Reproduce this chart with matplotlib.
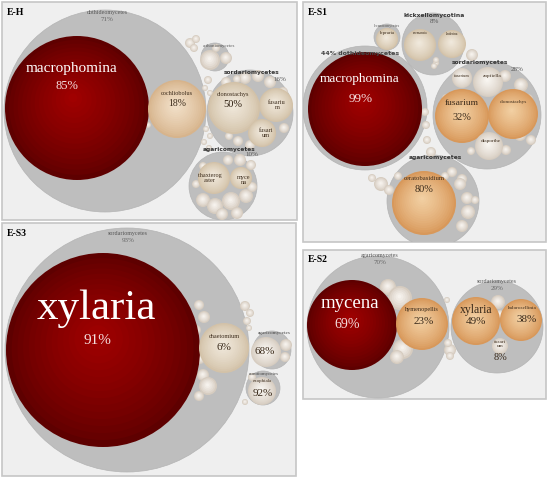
import numpy as np
import matplotlib
matplotlib.use('Agg')
import matplotlib.pyplot as plt
import matplotlib.colors as mcolors
from matplotlib.patches import Circle, Rectangle

# ---- data: class (gray) and genus (shaded) bubbles for each sample ----
eh_class = ['dothideomycetes', 'sordariomycetes', 'agaricomycetes', 'arthoniomycetes']
eh_class_pct = ['71%', '16%', '10%', '']
eh_class_size = [101, 43, 34, 14]
eh_genus = ['macrophomina', 'cochliobolus', 'clonostachys', 'fusariu\nm', 'fusari\num',
            'thaxterog\naster', 'myce\nna']
eh_genus_pct = ['85%', '18%', '50%', '', '', '', '']
eh_genus_size = [72, 29, 26, 17, 14, 16, 11]

s1_class = ['dothideomycetes', 'kickxellomycotina', 'sordariomycetes', 'agaricomycetes', 'lecanoromycetes']
s1_class_pct = ['44%', '8%', '28%', '', '']
s1_class_size = [62, 31, 54, 46, 13]
s1_genus = ['macrophomina', 'fusarium', 'clonostachys', 'zopfiella', 'fusarium', 'diaporthe',
            'ceratobasidium', 'lepraria', 'coemansia', 'linderina']
s1_genus_pct = ['99%', '32%', '', '', '', '', '80%', '', '', '']
s1_genus_size = [57, 27, 25, 15, 10, 14, 32, 11, 16, 14]

s3_class = ['sordariomycetes', 'agaricomycetes', 'eurotiomycetes']
s3_class_pct = ['93%', '', '']
s3_class_size = [122, 19, 17]
s3_genus = ['xylaria', 'chaetomium', '', 'exophiala']
s3_genus_pct = ['91%', '6%', '68%', '92%']
s3_genus_size = [97, 25, 15, 14]

s2_class = ['agaricomycetes', 'sordariomycetes']
s2_class_pct = ['70%', '29%']
s2_class_size = [71, 46]
s2_genus = ['mycena', 'hymenopellis', 'xylaria', 'halorosellinia', 'fusari\num']
s2_genus_pct = ['69%', '23%', '49%', '38%', '8%']
s2_genus_size = [45, 26, 24, 21, 8]

# ---- layout (figure pixel space) ----
panels = {'E-H': (2, 2, 297, 220), 'E-S1': (303, 2, 546, 242),
          'E-S3': (2, 223, 296, 476), 'E-S2': (303, 250, 546, 399)}

RED = ('#a30000', '#5e0000')
ORANGE = ('#f3d2a6', '#d8985a')
TAN = ('#f3e2cc', '#d7b48c')
BEIGE = ('#f2ebe0', '#d3c2a8')
LIGHT = ('#fbf8f4', '#d6ccc0')

fig = plt.figure(figsize=(5.5, 4.79), dpi=100)
ax = fig.add_axes([0, 0, 1, 1])
ax.set_xlim(0, 550)
ax.set_ylim(479, 0)
ax.axis('off')

clips = {}
for name, (x0, y0, x1, y1) in panels.items():
    rect = Rectangle((x0, y0), x1 - x0, y1 - y0, fc='#efefef', ec='#c6c6c6', lw=1.2, zorder=0)
    ax.add_patch(rect)
    clips[name] = rect
    ax.text(x0 + 5, y0 + 10, name, fontsize=7, fontweight='bold', family='Liberation Serif',
            va='center', ha='left', zorder=10)


def ball(panel, cx, cy, r, cols, n=16, z=3):
    ci = np.array(mcolors.to_rgb(cols[0]))
    co = np.array(mcolors.to_rgb(cols[1]))
    for i in range(n):
        t = i / n
        c = co + (ci - co) * t ** 0.8
        p = Circle((cx - 0.06 * r * t, cy - 0.15 * r * t), r * (1 - t), fc=c, ec='none', zorder=z)
        ax.add_patch(p)
        p.set_clip_path(clips[panel])


def gray(panel, cx, cy, r, z=1):
    p = Circle((cx, cy), r, fc='#bebebe', ec='#b4b4b4', lw=0.5, zorder=z)
    ax.add_patch(p)
    p.set_clip_path(clips[panel])


def minis(panel, pts):
    for cx, cy, r in pts:
        ball(panel, cx, cy, r, LIGHT, n=6, z=2)


def txt(x, y, s, size, color='#3a2a1a', bold=False, fam='Liberation Serif'):
    ax.text(x, y, s, fontsize=size, color=color, ha='center', va='center', family=fam,
            fontweight='bold' if bold else 'normal', zorder=12, linespacing=1.0)


# ================= E-H =================
eh_class_xy = [(105, 111), (250, 113), (223, 186), (215, 57)]
eh_genus_xy = [(77, 108), (177, 109), (234, 108), (276, 105), (262, 133), (214, 178), (241, 178)]
eh_style = [RED, TAN, BEIGE, BEIGE, BEIGE, BEIGE, BEIGE]
for (cx, cy), r in zip(eh_class_xy, eh_class_size):
    gray('E-H', cx, cy, r)
minis('E-H', [(190, 43, 5), (196, 39, 4), (194, 48, 4), (210, 60, 10), (226, 58, 6), (216, 48, 4),
              (208, 80, 4), (205, 88, 3), (210, 93, 3), (206, 129, 3), (210, 136, 3), (204, 142, 3),
              (209, 148, 3), (148, 125, 3),
              (245, 78, 6), (258, 76, 6), (270, 82, 6), (226, 82, 5), (237, 79, 4), (283, 92, 5),
              (250, 145, 5), (238, 141, 5), (229, 136, 4), (284, 128, 5),
              (240, 160, 6), (251, 165, 5), (203, 200, 7), (215, 206, 8), (231, 201, 9), (246, 196, 7),
              (252, 187, 5), (228, 160, 5), (203, 166, 4), (222, 214, 6), (237, 213, 6), (196, 184, 4)])
for (cx, cy), r, st in zip(eh_genus_xy, eh_genus_size, eh_style):
    ball('E-H', cx, cy, r, st)

txt(107, 12, eh_class[0], 4.3, '#555555')
txt(107, 19, eh_class_pct[0], 5, '#666666')
txt(72, 68, eh_genus[0], 11, 'white')
txt(67, 86, eh_genus_pct[0], 9, '#f4dede')
txt(177, 93, eh_genus[1], 4.5)
txt(177, 103, eh_genus_pct[1], 7)
txt(233, 94, eh_genus[2], 4.5)
txt(233, 104, eh_genus_pct[2], 7.5, '#2a1a0a')
txt(252, 72, eh_class[1], 4.2, '#333333', bold=True, fam='DejaVu Sans')
txt(280, 79, eh_class_pct[1], 5, '#555555')
txt(277, 105, eh_genus[3], 4.5)
txt(266, 133, eh_genus[4], 4.5)
txt(229, 150, eh_class[2], 4.2, '#333333', bold=True, fam='DejaVu Sans')
txt(252, 154, eh_class_pct[2], 5, '#555555')
txt(210, 178, eh_genus[5], 4.5)
txt(244, 180, eh_genus[6], 4.5)
txt(219, 46, eh_class[3], 3.5, '#555555')

# ================= E-S1 =================
s1_class_xy = [(365, 108), (433, 44), (487, 115), (433, 201), (387, 37)]
s1_genus_xy = [(365, 109), (462, 116), (513, 114), (488, 82), (462, 78), (489, 146),
               (424, 203), (387, 39), (420, 45), (452, 44)]
s1_style = [RED, ORANGE, ORANGE, LIGHT, LIGHT, LIGHT, ORANGE, BEIGE, BEIGE, BEIGE]
for (cx, cy), r in zip(s1_class_xy, s1_class_size):
    gray('E-S1', cx, cy, r)
minis('E-S1', [(426, 125, 4), (427, 140, 4), (425, 112, 4), (431, 152, 5), (381, 184, 7), (389, 190, 5),
               (398, 176, 4), (462, 179, 5), (472, 55, 6), (372, 178, 4),
               (505, 76, 6), (521, 85, 7), (528, 99, 5), (520, 135, 6), (531, 140, 5), (471, 151, 4),
               (506, 150, 5), (446, 98, 4), (436, 63, 3),
               (460, 184, 6), (467, 198, 6), (468, 212, 7), (462, 226, 6), (452, 172, 5), (445, 176, 4),
               (475, 200, 4), (436, 60, 3), (434, 66, 3)])
for (cx, cy), r, st in zip(s1_genus_xy, s1_genus_size, s1_style):
    ball('E-S1', cx, cy, r, st)

txt(360, 53, s1_class_pct[0] + ' ' + s1_class[0], 4.5, '#444444', bold=True, fam='DejaVu Sans')
txt(360, 79, s1_genus[0], 9.5, 'white')
txt(361, 99, s1_genus_pct[0], 9.5, '#f4dede')
txt(434, 15, s1_class[1], 4.3, '#333333', bold=True, fam='DejaVu Sans')
txt(434, 21, s1_class_pct[1], 5, '#555555')
txt(480, 62, s1_class[2], 4.3, '#333333', bold=True, fam='DejaVu Sans')
txt(517, 69, s1_class_pct[2], 5, '#555555')
txt(462, 103, s1_genus[1], 6.8)
txt(462, 117, s1_genus_pct[1], 7.5)
txt(513, 102, s1_genus[2], 3.8)
txt(492, 76, s1_genus[3], 3.8)
txt(462, 76, s1_genus[4], 3.2)
txt(491, 141, s1_genus[5], 3.8)
txt(435, 158, s1_class[3], 4.3, '#333333', bold=True, fam='DejaVu Sans')
txt(424, 179, s1_genus[6], 4.8)
txt(424, 189, s1_genus_pct[6], 7.5)
txt(387, 33, s1_genus[7], 3.5)
txt(387, 26, s1_class[4], 2.8, '#555555')
txt(420, 33, s1_genus[8], 2.5)
txt(452, 34, s1_genus[9], 2.5)

# ================= E-S3 =================
s3_class_xy = [(127, 350), (272, 350), (263, 388)]
s3_genus_xy = [(103, 350), (224, 348), (266, 352), (262, 391)]
s3_style = [RED, BEIGE, LIGHT, LIGHT]
for (cx, cy), r in zip(s3_class_xy, s3_class_size):
    gray('E-S3', cx, cy, r)
minis('E-S3', [(199, 305, 5), (204, 317, 6), (196, 330, 5), (198, 345, 5), (200, 359, 5),
               (203, 375, 6), (208, 386, 9), (199, 396, 5), (245, 306, 5), (250, 313, 4),
               (247, 321, 4), (249, 328, 3), (252, 377, 4), (245, 402, 3), (286, 345, 6), (285, 357, 5)])
for (cx, cy), r, st in zip(s3_genus_xy, s3_genus_size, s3_style):
    ball('E-S3', cx, cy, r, st)

txt(128, 233, s3_class[0], 4.3, '#555555')
txt(128, 240, s3_class_pct[0], 5, '#666666')
txt(96, 309, s3_genus[0], 31, 'white')
txt(97, 340, s3_genus_pct[0], 11, '#f4dede')
txt(224, 336, s3_genus[1], 4.5)
txt(224, 347, s3_genus_pct[1], 8)
txt(274, 333, s3_class[1], 3.8, '#444444')
txt(265, 351, s3_genus_pct[2], 8)
txt(264, 374, s3_class[2], 3.5, '#444444')
txt(262, 381, s3_genus[3], 3.5)
txt(263, 393, s3_genus_pct[3], 8)

# ================= E-S2 =================
s2_class_xy = [(378, 327), (497, 327)]
s2_genus_xy = [(352, 325), (422, 324), (476, 321), (521, 320), (500, 346)]
s2_style = [RED, ORANGE, ORANGE, ORANGE, LIGHT]
for (cx, cy), r in zip(s2_class_xy, s2_class_size):
    gray('E-S2', cx, cy, r)
minis('E-S2', [(388, 287, 8), (400, 298, 12), (403, 349, 10), (397, 357, 7), (450, 350, 6),
               (447, 300, 3), (448, 343, 4), (498, 302, 7), (500, 314, 4), (450, 356, 4)])
for (cx, cy), r, st in zip(s2_genus_xy, s2_genus_size, s2_style):
    ball('E-S2', cx, cy, r, st)

txt(380, 256, s2_class[0], 4.3, '#555555')
txt(380, 263, s2_class_pct[0], 5, '#666666')
txt(350, 304, s2_genus[0], 13.5, 'white')
txt(347, 325, s2_genus_pct[0], 10, '#f4dede')
txt(422, 310, s2_genus[1], 4.5)
txt(424, 322, s2_genus_pct[1], 8)
txt(497, 282, s2_class[1], 4.3, '#555555')
txt(497, 288, s2_class_pct[1], 5, '#666666')
txt(476, 310, s2_genus[2], 8.5)
txt(476, 321, s2_genus_pct[2], 8)
txt(522, 308, s2_genus[3], 3.8)
txt(527, 320, s2_genus_pct[3], 8)
txt(500, 344, s2_genus[4], 3.8)
txt(500, 358, s2_genus_pct[4], 7.5)

fig.savefig('out.png', dpi=100, facecolor='white')
